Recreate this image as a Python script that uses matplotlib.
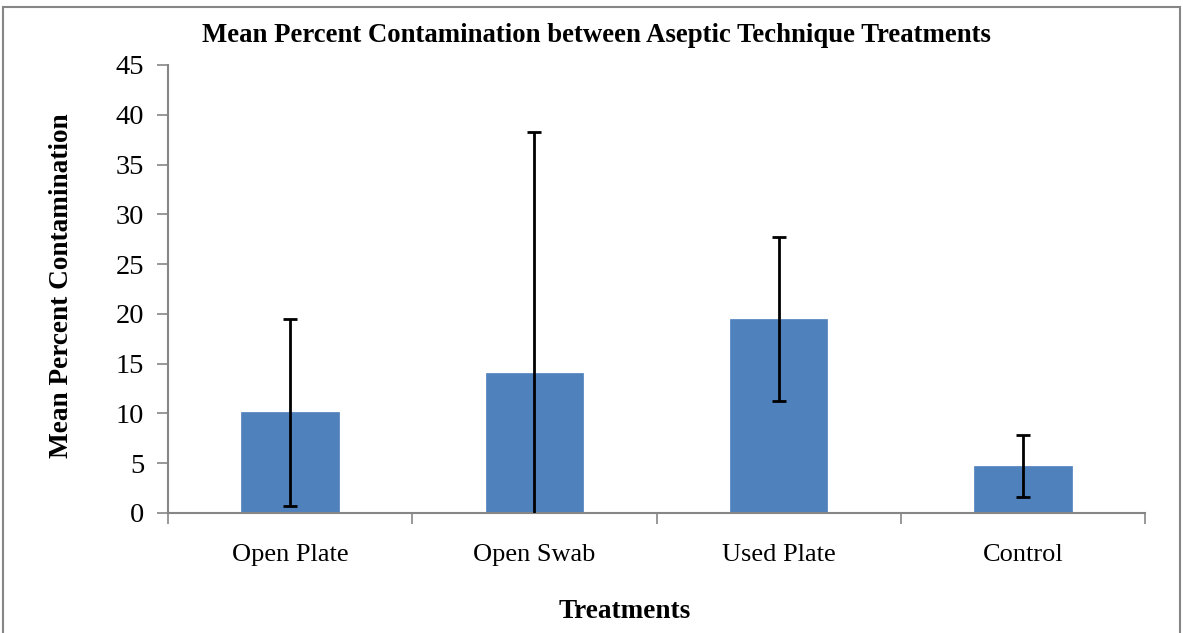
import matplotlib
matplotlib.use("Agg")
import matplotlib.pyplot as plt
from matplotlib.patches import Rectangle

categories = ["Open Plate", "Open Swab", "Used Plate", "Control"]
means = [10.1, 14.1, 19.5, 4.7]
errors = [9.35, 24.2, 8.25, 3.1]
yticks = [0, 5, 10, 15, 20, 25, 30, 35, 40, 45]

plt.rcParams['font.family'] = ['Liberation Serif', 'DejaVu Serif']

fig = plt.figure(figsize=(11.83, 6.33), dpi=100)
ax = fig.add_axes([168/1183, 1-513/633, (1145-168)/1183, (513-65)/633])

x = list(range(len(categories)))
ax.bar(x, means, width=0.4, color="#4F81BD", edgecolor="#4F81BD", linewidth=0.5, zorder=2)
ax.errorbar(x, means, yerr=errors, fmt="none", ecolor="black", elinewidth=2,
            capsize=4.7, capthick=2, zorder=3)

ax.set_xlim(-0.5, 3.5)
ax.set_ylim(0, 45)
ax.set_yticks(yticks)
ax.set_yticklabels([str(v) for v in yticks], fontsize=20.5)
ax.set_xticks(x)
ax.set_xticklabels(categories, fontsize=19)
ax.tick_params(axis='x', which='major', length=0, pad=22)
ax.set_xticks([-0.5, 0.5, 1.5, 2.5, 3.5], minor=True)
ax.tick_params(axis='x', which='minor', length=8, color="#868686", width=1.2, direction='out')
ax.tick_params(axis='y', length=8, color="#868686", width=1.2, direction='out', pad=9)

for s in ['top', 'right']:
    ax.spines[s].set_visible(False)
for s in ['left', 'bottom']:
    ax.spines[s].set_color("#868686")
    ax.spines[s].set_linewidth(1.5)

fig.text(596/1183, 1-36/633, "Mean Percent Contamination between Aseptic Technique Treatments",
         ha='center', va='center', fontsize=19.3, fontweight='bold')
fig.text(625/1183, 1-612/633, "Treatments", ha='center', va='center', fontsize=19.6, fontweight='bold')
fig.text(62/1183, 1-286/633, "Mean Percent Contamination", ha='center', va='center',
         rotation=90, fontsize=19.6, fontweight='bold')

fig.patches.append(Rectangle((3/1183, -0.01), (1180-3)/1183, 1-7/633+0.01, transform=fig.transFigure,
                             fill=False, edgecolor="#868686", linewidth=1.5))

fig.savefig("out.png", dpi=100)
